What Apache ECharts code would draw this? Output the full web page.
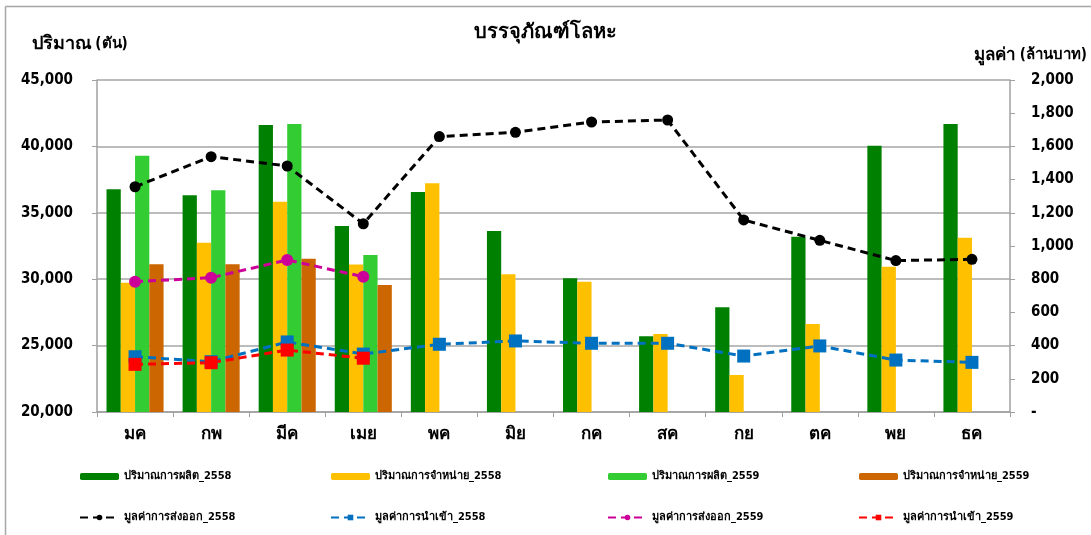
<!DOCTYPE html>
<html>
<head>
<meta charset="utf-8">
<script src="https://cdn.jsdelivr.net/npm/echarts@6/dist/echarts.min.js"></script>
<style>
html,body{margin:0;padding:0;background:#fff;}
#c{width:1091px;height:535px;}
</style>
</head>
<body>
<div id="c"></div>
<script>
const months = ['มค','กพ','มีค','เมย','พค','มิย','กค','สค','กย','ตค','พย','ธค'];
const prod2558 = [36770, 36320, 41610, 34010, 36570, 33630, 30070, 25700, 27880, 33200, 40050, 41690];
const sales2558 = [29740, 32750, 35840, 31100, 37220, 30370, 29810, 25870, 22790, 26630, 30940, 33130];
const prod2559 = [39300, 36690, 41690, 31820, null, null, null, null, null, null, null, null];
const sales2559 = [31120, 31120, 31540, 29560, null, null, null, null, null, null, null, null];
const export2558 = [1357, 1538, 1482, 1134, 1659, 1685, 1747, 1759, 1157, 1034, 912, 920];
const import2558 = [333, 303, 422, 349, 408, 428, 414, 414, 337, 398, 313, 299];
const export2559 = [785, 809, 916, 815, null, null, null, null, null, null, null, null];
const import2559 = [287, 297, 373, 324, null, null, null, null, null, null, null, null];

const names = {
  p58: 'ปริมาณการผลิต_2558', s58: 'ปริมาณการจำหน่าย_2558',
  p59: 'ปริมาณการผลิต_2559', s59: 'ปริมาณการจำหน่าย_2559',
  e58: 'มูลค่าการส่งออก_2558', i58: 'มูลค่าการนำเข้า_2558',
  e59: 'มูลค่าการส่งออก_2559', i59: 'มูลค่าการนำเข้า_2559'
};

const FONT = 'Tahoma, "DejaVu Sans Condensed", "DejaVu Sans", sans-serif';
const chart = echarts.init(document.getElementById('c'));

function bar(name, data, color) {
  return {
    name, type: 'bar', data, yAxisIndex: 0,
    barGap: '0%', barCategoryGap: '25%',
    itemStyle: { color },
    emphasis: { disabled: true }
  };
}
function line(name, data, color, symbol, size) {
  return {
    name, type: 'line', data, yAxisIndex: 1,
    symbol, symbolSize: size,
    lineStyle: { color, width: 3, type: [8, 5] },
    itemStyle: { color },
    z: 5,
    emphasis: { disabled: true }
  };
}

const legendText = { fontFamily: FONT, fontSize: 11, fontWeight: 'bold', color: '#000' };
function legend(left, items) {
  return {
    left, top: 471, orient: 'vertical', itemGap: 30, padding: 0,
    itemWidth: 39, itemHeight: 7,
    textStyle: legendText, data: items, selectedMode: false
  };
}

chart.setOption({
  animation: false,
  backgroundColor: '#fff',
  title: {
    text: 'บรรจุภัณฑ์โลหะ', left: 'center', top: 18,
    textStyle: { fontFamily: FONT, fontSize: 20, fontWeight: 'bold', color: '#000' }
  },
  graphic: [
    { type: 'line', shape: { x1: 5.5, y1: 6.5, x2: 1091, y2: 6.5 }, style: { stroke: '#A6A6A6', lineWidth: 1.5 } },
    { type: 'line', shape: { x1: 5.5, y1: 6.5, x2: 5.5, y2: 535 }, style: { stroke: '#A6A6A6', lineWidth: 1.5 } },
    { type: 'text', left: 32, top: 35, style: {
        text: '{a|ปริมาณ} {b|(ตัน)}',
        rich: {
          a: { fontFamily: FONT, fontSize: 18, fontWeight: 'bold', fill: '#000' },
          b: { fontFamily: FONT, fontSize: 15, fontWeight: 'bold', fill: '#000' }
        } } },
    { type: 'text', right: 4, top: 47, style: {
        text: '{a|มูลค่า} {b|(ล้านบาท)}',
        rich: {
          a: { fontFamily: FONT, fontSize: 17, fontWeight: 'bold', fill: '#000' },
          b: { fontFamily: FONT, fontSize: 15, fontWeight: 'bold', fill: '#000' }
        } } }
  ],
  legend: [
    legend(79, [names.p58, names.e58]),
    legend(330, [names.s58, names.i58]),
    legend(607, [names.p59, names.e59]),
    legend(858, [names.s59, names.i59])
  ],
  grid: { left: 97, right: 81, top: 80, bottom: 123, containLabel: false },
  xAxis: {
    type: 'category', data: months,
    axisLine: { lineStyle: { color: '#A0A0A0', width: 1.5 } },
    axisTick: { show: true, length: 5, lineStyle: { color: '#A0A0A0' } },
    axisLabel: { fontFamily: FONT, fontSize: 17, fontWeight: 'bold', color: '#000', margin: 14 }
  },
  yAxis: [
    {
      type: 'value', min: 20000, max: 45000, interval: 5000, position: 'left',
      axisLine: { show: true, lineStyle: { color: '#A0A0A0', width: 1.5 } },
      axisTick: { show: true, length: 5, lineStyle: { color: '#A0A0A0' } },
      splitLine: { show: true, lineStyle: { color: '#A6A6A6', width: 1.5 } },
      axisLabel: {
        fontFamily: FONT, fontSize: 15, fontWeight: 'bold', color: '#000', margin: 24,
        formatter: v => v.toLocaleString('en-US')
      }
    },
    {
      type: 'value', min: 0, max: 2000, interval: 200, position: 'right',
      axisLine: { show: true, lineStyle: { color: '#A0A0A0', width: 1.5 } },
      axisTick: { show: true, length: 5, lineStyle: { color: '#A0A0A0' } },
      splitLine: { show: false },
      axisLabel: {
        fontFamily: FONT, fontSize: 15, fontWeight: 'bold', color: '#000', margin: 21,
        formatter: v => v === 0 ? '-' : v.toLocaleString('en-US')
      }
    }
  ],
  series: [
    bar(names.p58, prod2558, '#008000'),
    bar(names.s58, sales2558, '#FFC000'),
    bar(names.p59, prod2559, '#33CC33'),
    bar(names.s59, sales2559, '#CC6600'),
    line(names.e58, export2558, '#000000', 'circle', 11),
    line(names.i58, import2558, '#0070C0', 'rect', 13),
    line(names.e59, export2559, '#CC0099', 'circle', 12),
    line(names.i59, import2559, '#FF0000', 'rect', 13)
  ]
});
</script>
</body>
</html>
